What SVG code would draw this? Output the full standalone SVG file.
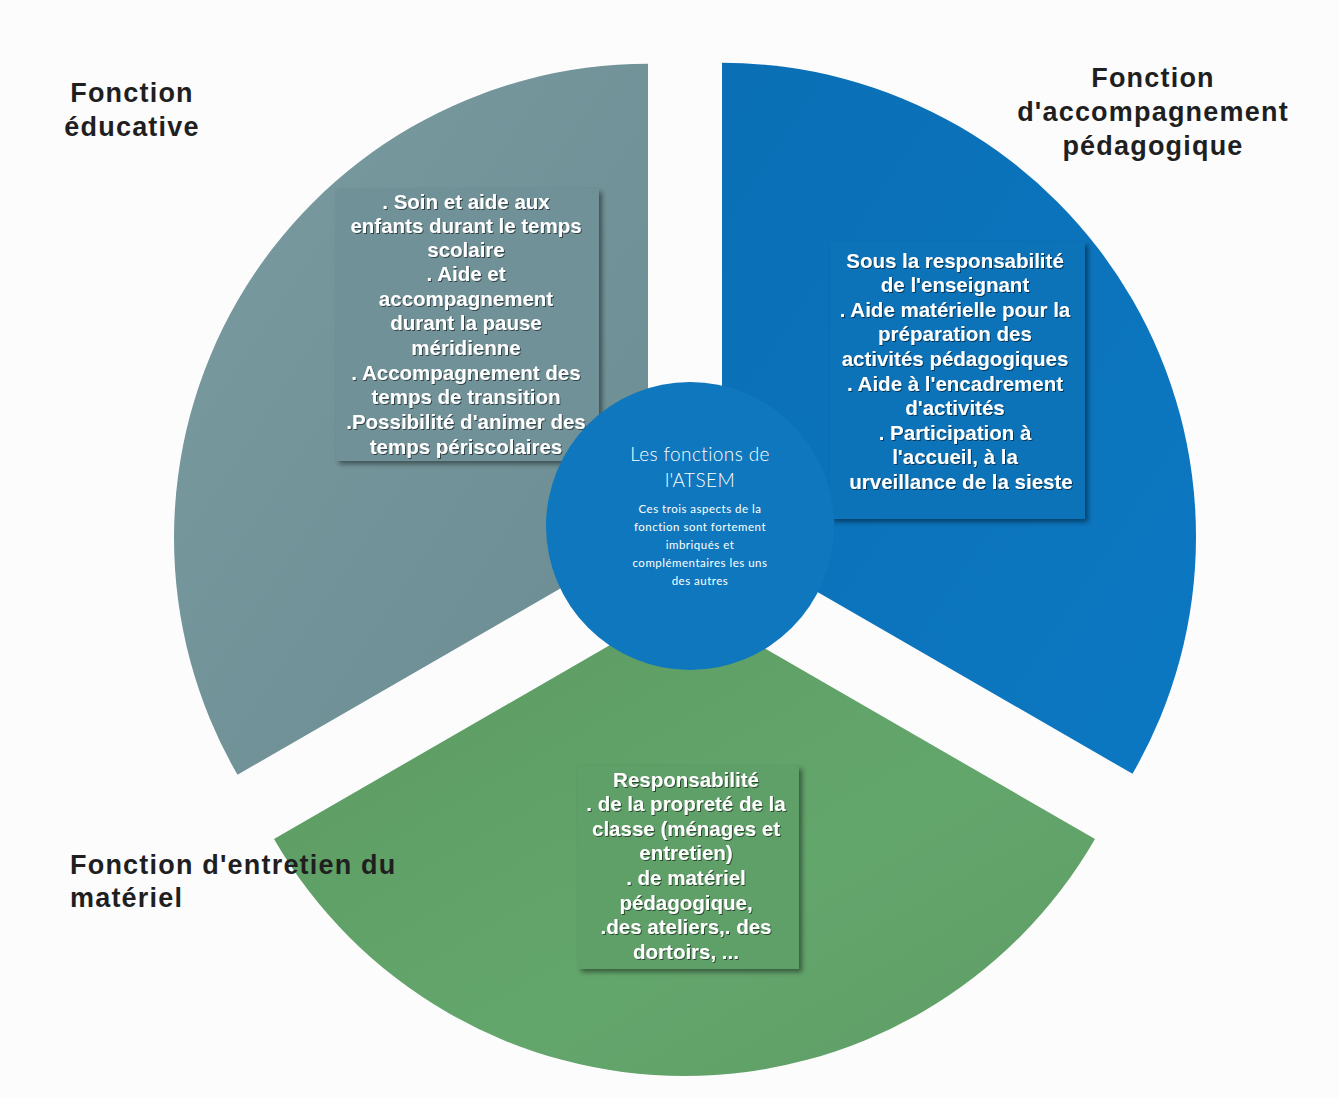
<svg xmlns="http://www.w3.org/2000/svg" width="1339" height="1098" viewBox="0 0 1339 1098">
  <defs>
    <linearGradient id="gGray" x1="0" y1="0" x2="1" y2="1">
      <stop offset="0" stop-color="#7a9ba0"/>
      <stop offset="1" stop-color="#6a8c92"/>
    </linearGradient>
    <linearGradient id="gBlue" x1="0" y1="0" x2="1" y2="1">
      <stop offset="0" stop-color="#0a6fb5"/>
      <stop offset="1" stop-color="#0c78c2"/>
    </linearGradient>
    <linearGradient id="gGreen" x1="0" y1="0" x2="1" y2="1">
      <stop offset="0" stop-color="#5c9a62"/>
      <stop offset="0.6" stop-color="#63a66c"/>
      <stop offset="1" stop-color="#5f9d66"/>
    </linearGradient>
    <filter id="boxShadow" x="-10%" y="-10%" width="125%" height="125%">
      <feDropShadow dx="3" dy="3" stdDeviation="2.5" flood-color="#000" flood-opacity="0.45"/>
    </filter>
    <filter id="txtShadow" x="-5%" y="-5%" width="110%" height="110%">
      <feDropShadow dx="1" dy="1" stdDeviation="0.7" flood-color="#000" flood-opacity="0.55"/>
    </filter>
  </defs>
  <style>
    .title { font-family: "Liberation Sans", Arial, sans-serif; font-weight: bold; font-size: 27px; letter-spacing: 1.2px; fill: #1f1f1f; }
    .body { font-family: "Liberation Sans", Arial, sans-serif; font-weight: bold; font-size: 20.5px; fill: #ffffff; text-anchor: middle; }
    .ctitle { font-family: Lato, "Open Sans", sans-serif; font-weight: 300; font-size: 19px; fill: #ffffff; text-anchor: middle; letter-spacing: 0.4px; }
    .csmall { font-family: Lato, "Open Sans", sans-serif; font-weight: 400; font-size: 11.5px; fill: #ffffff; text-anchor: middle; letter-spacing: 0.5px; }
  </style>
  <rect x="0" y="0" width="1339" height="1098" fill="#fcfcfd"/>

  <g id="node-educative">
    <path d="M 648 537.8 L 648 63.8 A 474 474 0 0 0 237.5 774.8 Z" fill="url(#gGray)"/>
    <rect x="336" y="189" width="263" height="272" fill="#6f9197" filter="url(#boxShadow)"/>
    <g class="body" filter="url(#txtShadow)">
      <text x="466" y="209">. Soin et aide aux</text>
      <text x="466" y="233">enfants durant le temps</text>
      <text x="466" y="257">scolaire</text>
      <text x="466" y="281">. Aide et</text>
      <text x="466" y="306">accompagnement</text>
      <text x="466" y="330">durant la pause</text>
      <text x="466" y="355">méridienne</text>
      <text x="466" y="380">. Accompagnement des</text>
      <text x="466" y="404">temps de transition</text>
      <text x="466" y="429">.Possibilité d'animer des</text>
      <text x="466" y="454">temps périscolaires</text>
    </g>
    <text class="title" x="132" y="102" text-anchor="middle">Fonction</text>
    <text class="title" x="132" y="136" text-anchor="middle">éducative</text>
  </g>

  <g id="node-pedagogique">
    <path d="M 722 536.8 L 722 62.8 A 474 474 0 0 1 1132.5 773.8 Z" fill="url(#gBlue)"/>
    <rect x="830" y="242" width="255" height="277" fill="#0b73b9" filter="url(#boxShadow)"/>
    <g class="body" filter="url(#txtShadow)">
      <text x="955" y="268">Sous la responsabilité</text>
      <text x="955" y="292">de l'enseignant</text>
      <text x="955" y="317">. Aide matérielle pour la</text>
      <text x="955" y="341">préparation des</text>
      <text x="955" y="366">activités pédagogiques</text>
      <text x="955" y="391">. Aide à l'encadrement</text>
      <text x="955" y="415">d'activités</text>
      <text x="955" y="440">. Participation à</text>
      <text x="955" y="464">l'accueil, à la</text>
      <text x="961" y="489">urveillance de la sieste</text>
    </g>
    <text class="title" x="1153" y="87" text-anchor="middle">Fonction</text>
    <text class="title" x="1153" y="121" text-anchor="middle">d'accompagnement</text>
    <text class="title" x="1153" y="155" text-anchor="middle">pédagogique</text>
  </g>

  <g id="node-entretien">
    <path d="M 684.5 602 L 1095 839 A 474 474 0 0 1 274 839 Z" fill="url(#gGreen)"/>
    <rect x="578" y="766" width="221" height="203" fill="#5f9f67" filter="url(#boxShadow)"/>
    <g class="body" filter="url(#txtShadow)">
      <text x="686" y="787">Responsabilité</text>
      <text x="686" y="811">. de la propreté de la</text>
      <text x="686" y="836">classe (ménages et</text>
      <text x="686" y="860">entretien)</text>
      <text x="686" y="885">. de matériel</text>
      <text x="686" y="910">pédagogique,</text>
      <text x="686" y="934">.des ateliers,. des</text>
      <text x="686" y="959">dortoirs, ...</text>
    </g>
    <text class="title" x="70" y="874">Fonction d'entretien du</text>
    <text class="title" x="70" y="907">matériel</text>
  </g>

  <g id="node-center">
    <circle cx="690" cy="526" r="144" fill="#0f77bd"/>
    <text class="ctitle" x="700" y="461">Les fonctions de</text>
    <text class="ctitle" x="700" y="487">l'ATSEM</text>
    <text class="csmall" x="700" y="513">Ces trois aspects de la</text>
    <text class="csmall" x="700" y="531">fonction sont fortement</text>
    <text class="csmall" x="700" y="549">imbriqués et</text>
    <text class="csmall" x="700" y="567">complémentaires les uns</text>
    <text class="csmall" x="700" y="585">des autres</text>
  </g>

  <g id="connectors"/>
</svg>
